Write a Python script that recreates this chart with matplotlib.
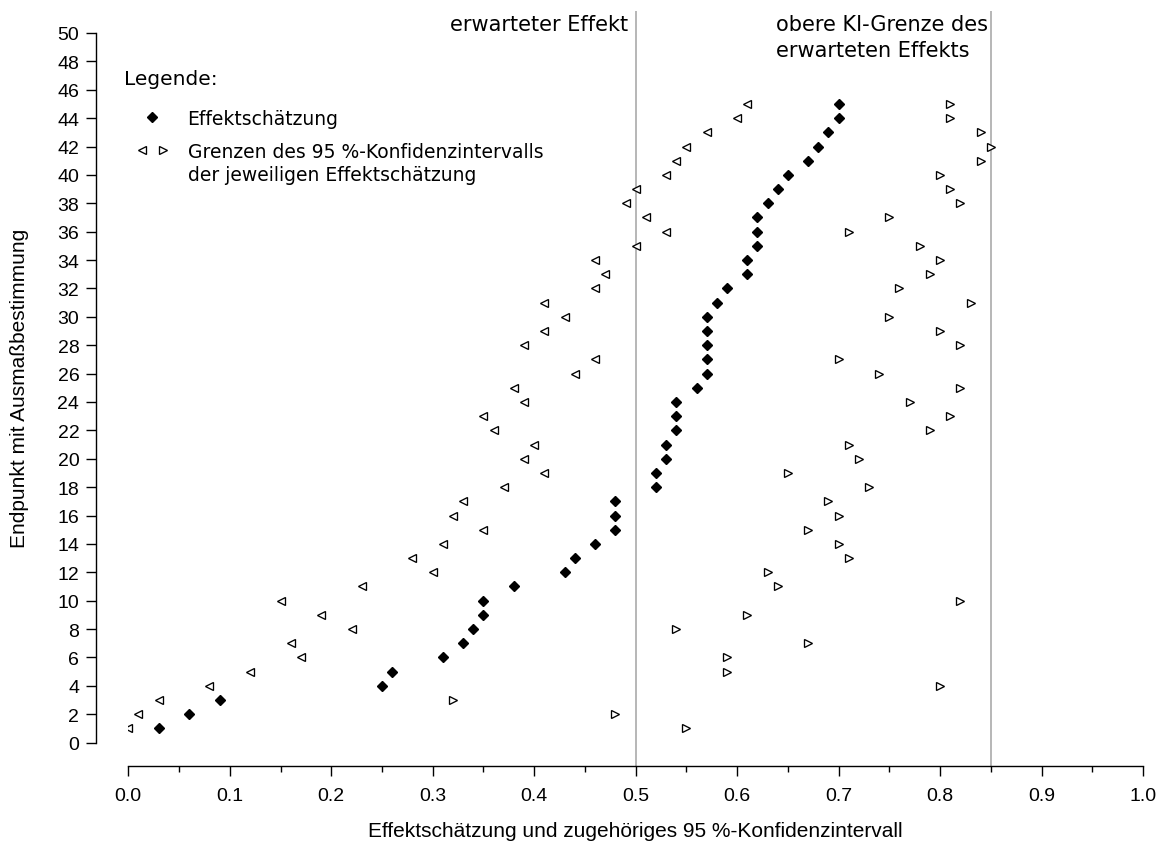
import matplotlib
matplotlib.use("Agg")
import matplotlib.pyplot as plt
from matplotlib.lines import Line2D
from matplotlib.ticker import MultipleLocator

# ---------------- data ----------------
endpoints = list(range(1, 46))
estimate = [0.03, 0.06, 0.09, 0.25, 0.26, 0.31, 0.33, 0.34, 0.35, 0.35,
            0.38, 0.43, 0.44, 0.46, 0.48, 0.48, 0.48, 0.52, 0.52, 0.53,
            0.53, 0.54, 0.54, 0.54, 0.56, 0.57, 0.57, 0.57, 0.57, 0.57,
            0.58, 0.59, 0.61, 0.61, 0.62, 0.62, 0.62, 0.63, 0.64, 0.65,
            0.67, 0.68, 0.69, 0.70, 0.70]
ci_lower = [0.00, 0.01, 0.03, 0.08, 0.12, 0.17, 0.16, 0.22, 0.19, 0.15,
            0.23, 0.30, 0.28, 0.31, 0.35, 0.32, 0.33, 0.37, 0.41, 0.39,
            0.40, 0.36, 0.35, 0.39, 0.38, 0.44, 0.46, 0.39, 0.41, 0.43,
            0.41, 0.46, 0.47, 0.46, 0.50, 0.53, 0.51, 0.49, 0.50, 0.53,
            0.54, 0.55, 0.57, 0.60, 0.61]
ci_upper = [0.55, 0.48, 0.32, 0.80, 0.59, 0.59, 0.67, 0.54, 0.61, 0.82,
            0.64, 0.63, 0.71, 0.70, 0.67, 0.70, 0.69, 0.73, 0.65, 0.72,
            0.71, 0.79, 0.81, 0.77, 0.82, 0.74, 0.70, 0.82, 0.80, 0.75,
            0.83, 0.76, 0.79, 0.80, 0.78, 0.71, 0.75, 0.82, 0.81, 0.80,
            0.84, 0.85, 0.84, 0.81, 0.81]
reference_lines = [0.5, 0.85]
x_ticks = [0.0, 0.1, 0.2, 0.3, 0.4, 0.5, 0.6, 0.7, 0.8, 0.9, 1.0]
x_tick_labels = ["0.0", "0.1", "0.2", "0.3", "0.4", "0.5", "0.6", "0.7", "0.8", "0.9", "1.0"]
y_ticks = list(range(0, 51, 2))

# ---------------- layout (pixels) ----------------
W, H = 1164, 845
AX_FONT = "Liberation Sans"
TXT_FONT = "DejaVu Sans"

def fx(px):
    return px / W

def fy(py):
    return 1 - py / H

ax_left, ax_right = 128.3, 1143.0
ax_top, ax_bottom = 12.0, 766.7
y0_px, y50_px = 743.6, 34.0

fig = plt.figure(figsize=(W / 100, H / 100), dpi=100)
fig.patch.set_facecolor("white")
ax = fig.add_axes([fx(ax_left), fy(ax_bottom), (ax_right - ax_left) / W, (ax_bottom - ax_top) / H])

unit = 50 / (y0_px - y50_px)
ax.set_xlim(0, 1)
ax.set_ylim(-(ax_bottom - y0_px) * unit, 50 + (y50_px - ax_top) * unit)

# reference lines
for xv in reference_lines:
    ax.axvline(xv, color="#a3a3a3", lw=1.1, zorder=1)

# data
ax.plot(ci_lower, endpoints, ls="none", marker="<", ms=5.2, mfc="white",
        mec="black", mew=0.95, zorder=3)
ax.plot(ci_upper, endpoints, ls="none", marker=">", ms=5.2, mfc="white",
        mec="black", mew=0.95, zorder=3)
ax.plot(estimate, endpoints, ls="none", marker="D", ms=5.0, color="black", zorder=4)

# spines
for s in ("top", "right"):
    ax.spines[s].set_visible(False)
ax.spines["left"].set_position(("outward", 32.3 * 0.72))
ax.spines["left"].set_bounds(0, 50)
ax.spines["bottom"].set_bounds(0, 1)
for s in ("left", "bottom"):
    ax.spines[s].set_linewidth(1.0)

ax.set_xticks(x_ticks)
ax.set_xticklabels(x_tick_labels, fontfamily=AX_FONT, fontsize=14)
ax.xaxis.set_minor_locator(MultipleLocator(0.05))
ax.set_yticks(y_ticks)
ax.set_yticklabels([str(v) for v in y_ticks], fontfamily=AX_FONT, fontsize=14)
ax.tick_params(axis="x", which="major", direction="out", length=7, width=1.0, pad=8)
ax.tick_params(axis="x", which="minor", direction="out", length=4, width=1.0)
ax.tick_params(axis="y", which="major", direction="out", length=7, width=1.0, pad=5)

ax.set_xlabel("Effektschätzung und zugehöriges 95 %-Konfidenzintervall",
              fontfamily=AX_FONT, fontsize=15, va="center")
ax.xaxis.set_label_coords(fx((ax_left + ax_right) / 2), fy(832), transform=fig.transFigure)
ax.set_ylabel("Endpunkt mit Ausmaßbestimmung", fontfamily=AX_FONT, fontsize=15, va="center")
ax.yaxis.set_label_coords(fx(20), fy((y0_px + y50_px) / 2), transform=fig.transFigure)

# annotations for reference lines
fig.text(fx(628), fy(31), "erwarteter Effekt", ha="right", va="baseline",
         fontfamily=TXT_FONT, fontsize=15)
fig.text(fx(776), fy(31), "obere KI-Grenze des", ha="left", va="baseline",
         fontfamily=TXT_FONT, fontsize=15)
fig.text(fx(776), fy(57), "erwarteten Effekts", ha="left", va="baseline",
         fontfamily=TXT_FONT, fontsize=15)

# legend (drawn manually to match the reference layout)
fig.text(fx(124), fy(85), "Legende:", ha="left", va="baseline",
         fontfamily=TXT_FONT, fontsize=14.5)
fig.add_artist(Line2D([fx(152)], [fy(118)], transform=fig.transFigure, ls="none",
                      marker="D", ms=5.0, color="black"))
fig.text(fx(187.5), fy(125), "Effektschätzung", ha="left", va="baseline",
         fontfamily=TXT_FONT, fontsize=13.5)
fig.add_artist(Line2D([fx(142)], [fy(151)], transform=fig.transFigure, ls="none",
                      marker="<", ms=5.2, mfc="white", mec="black", mew=0.95))
fig.add_artist(Line2D([fx(163)], [fy(151)], transform=fig.transFigure, ls="none",
                      marker=">", ms=5.2, mfc="white", mec="black", mew=0.95))
fig.text(fx(187.5), fy(158), "Grenzen des 95 %-Konfidenzintervalls", ha="left",
         va="baseline", fontfamily=TXT_FONT, fontsize=13.5)
fig.text(fx(187.5), fy(181), "der jeweiligen Effektschätzung", ha="left",
         va="baseline", fontfamily=TXT_FONT, fontsize=13.5)

fig.savefig("out.png", dpi=100, facecolor="white")
